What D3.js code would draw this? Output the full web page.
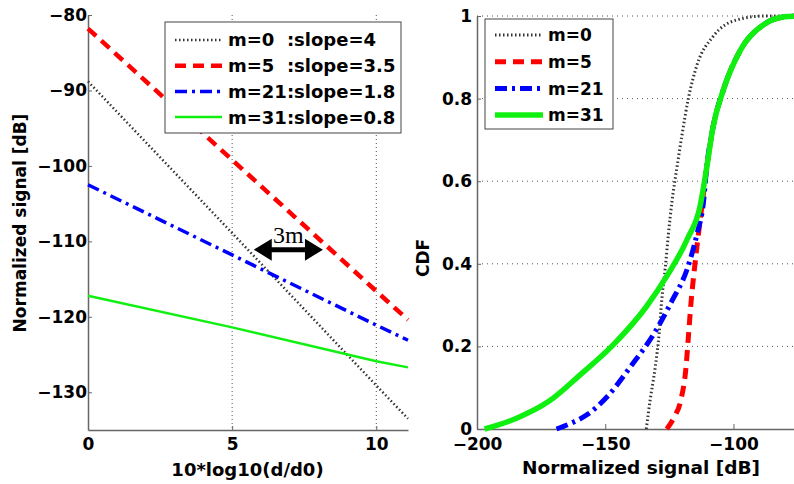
<!DOCTYPE html>
<html>
<head>
<meta charset="utf-8">
<script src="https://cdn.jsdelivr.net/npm/d3@7"></script>
<style>
  body { margin: 0; background: #fff; }
  svg { display: block; font-family: "DejaVu Sans", sans-serif; font-weight: bold; }
</style>
</head>
<body>
<script>
// left panel: path loss vs 10*log10(d/d0)
const distX = [0, 5, 10, 11.1];
const lossM0 = [-88.8, -108.9, -129.1, -133.5];
const lossM5 = [-81.8, -99.2, -116.6, -120.4];
const lossM21 = [-102.5, -111.8, -121.1, -123.1];
const lossM31 = [-117.2, -121.4, -125.9, -126.7];
const leftLabels = ["m=0  :slope=4", "m=5  :slope=3.5", "m=21:slope=1.8", "m=31:slope=0.8"];
const leftYTicks = [-80, -90, -100, -110, -120, -130];
const leftXTicks = [0, 5, 10];

// right panel: CDF of normalized signal, [dB, cdf]
const cdfM0 = [[-134, 0], [-132.5, 0.07], [-130.5, 0.15], [-129, 0.23], [-128, 0.31], [-126.6, 0.39],
  [-125.4, 0.47], [-124, 0.55], [-122, 0.635], [-120, 0.715], [-117.6, 0.8], [-114.3, 0.88],
  [-108, 0.95], [-99, 0.99], [-88, 1], [-75, 1]];
const cdfM5 = [[-126, 0], [-123, 0.03], [-120.5, 0.07], [-118.5, 0.15], [-117.5, 0.23], [-116.5, 0.31],
  [-115, 0.4], [-113.7, 0.47], [-112.3, 0.54], [-110.5, 0.63], [-108, 0.73], [-104, 0.82],
  [-97.5, 0.915], [-88, 0.98], [-80, 0.998], [-75, 1]];
const cdfM21 = [[-169, 0], [-163, 0.015], [-157, 0.035], [-149, 0.08], [-140, 0.152], [-131, 0.231],
  [-124, 0.31], [-118.2, 0.385], [-114.3, 0.47], [-111.7, 0.55],
  [-110.5, 0.63], [-108, 0.73], [-104, 0.82], [-97.5, 0.915], [-88, 0.98], [-80, 0.998], [-75, 1]];
const cdfM31 = [[-197, 0], [-185, 0.025], [-172, 0.067], [-160, 0.13], [-147, 0.203], [-134, 0.296],
  [-126, 0.37], [-118, 0.46], [-113, 0.54], [-110.5, 0.63], [-108, 0.73], [-104, 0.82],
  [-97.5, 0.915], [-88, 0.98], [-80, 0.998], [-75, 1]];
const rightLabels = ["m=0", "m=5", "m=21", "m=31"];
const rightYTicks = [0, 0.2, 0.4, 0.6, 0.8, 1];
const rightXTicks = [-200, -150, -100];

// "3m" arrow, in data units of the left panel
const arrowX = [5.75, 8.15];
const arrowY = -111.1;

const styles = [
  { color: "#333", dash: "1.5,2.5" },
  { color: "#ff0000", dash: "11,7" },
  { color: "#0000ff", dash: "12,5,3,5" },
  { color: "#10f010", dash: null }
];
const leftWidths = [2.5, 4.5, 3.5, 2.5];
const rightWidths = [3, 5, 5, 5.5];

var width = 794, height = 484;

var svg = d3.select("body").append("svg")
  .attr("width", width)
  .attr("height", height);

var xL = d3.scaleLinear().domain([0, 11.1]).range([88, 408]);
var yL = d3.scaleLinear().domain([-135, -80]).range([430, 15]);
var xR = d3.scaleLinear().domain([-200, -75]).range([477, 797.6]);
var yR = d3.scaleLinear().domain([0, 1]).range([429, 16]);

function styleAxis(g) {
  g.select(".domain").attr("stroke", "#666").attr("stroke-width", 1.5);
  g.selectAll(".tick line").attr("stroke", "#666");
  g.selectAll(".tick text").attr("fill", "#000").style("font-size", "17px").style("font-weight", "bold")
    .style("font-family", "DejaVu Sans, sans-serif");
}

// ---- left panel ----
svg.append("g")
  .selectAll("line")
  .data([5, 10])
  .enter()
  .append("line")
  .attr("x1", (d) => xL(d))
  .attr("x2", (d) => xL(d))
  .attr("y1", yL(-80))
  .attr("y2", yL(-135))
  .attr("stroke", "#555")
  .attr("stroke-dasharray", "1,3");

svg.append("g")
  .attr("transform", `translate(0,${yL(-135)})`)
  .call(d3.axisBottom(xL).tickValues(leftXTicks).tickSize(-4).tickSizeOuter(0).tickPadding(8))
  .call(styleAxis);

svg.append("g")
  .attr("transform", `translate(${xL(0)},0)`)
  .call(d3.axisLeft(yL).tickValues(leftYTicks).tickSize(-4).tickSizeOuter(0).tickPadding(1))
  .call(styleAxis);

var lineL = d3.line().x((d, i) => xL(distX[i])).y((d) => yL(d));
[lossM0, lossM5, lossM21, lossM31].forEach((s, i) => {
  svg.append("path")
    .attr("d", lineL(s))
    .attr("fill", "none")
    .attr("stroke", styles[i].color)
    .attr("stroke-width", leftWidths[i])
    .attr("stroke-dasharray", styles[i].dash);
});

// arrow annotation
var ax1 = xL(arrowX[0]), ax2 = xL(arrowX[1]), ay = yL(arrowY);
svg.append("line")
  .attr("x1", ax1 + 10).attr("x2", ax2 - 10)
  .attr("y1", ay).attr("y2", ay)
  .attr("stroke", "#000").attr("stroke-width", 5);
svg.append("path")
  .attr("d", `M${ax1},${ay}L${ax1 + 18},${ay - 11}L${ax1 + 18},${ay + 11}Z` +
    `M${ax2},${ay}L${ax2 - 18},${ay - 11}L${ax2 - 18},${ay + 11}Z`)
  .attr("fill", "#000");
svg.append("text")
  .text("3m")
  .attr("x", (ax1 + ax2) / 2)
  .attr("y", ay - 7)
  .attr("text-anchor", "middle")
  .style("font-family", "Liberation Serif, serif")
  .style("font-weight", "normal")
  .style("font-size", "24px");

// left legend
var legL = svg.append("g");
legL.append("rect")
  .attr("x", 165).attr("y", 22).attr("width", 236).attr("height", 111)
  .attr("fill", "#fff").attr("stroke", "#444").attr("stroke-width", 1);
leftLabels.forEach((lab, i) => {
  var y = 40 + i * 25.7;
  legL.append("line")
    .attr("x1", 175).attr("x2", 222).attr("y1", y).attr("y2", y)
    .attr("stroke", styles[i].color)
    .attr("stroke-width", leftWidths[i])
    .attr("stroke-dasharray", styles[i].dash);
  legL.append("text")
    .text(lab)
    .attr("x", 228).attr("y", y)
    .attr("dy", "0.36em")
    .style("white-space", "pre")
    .style("font-size", "18px");
});

svg.append("text")
  .text("10*log10(d/d0)")
  .attr("x", 247.5).attr("y", 476)
  .attr("text-anchor", "middle")
  .style("font-size", "18px");

svg.append("text")
  .text("Normalized signal [dB]")
  .attr("transform", "translate(26,223) rotate(-90)")
  .attr("text-anchor", "middle")
  .style("font-size", "17px");

// ---- right panel ----
svg.append("g")
  .selectAll("line")
  .data(rightYTicks.slice(1))
  .enter()
  .append("line")
  .attr("x1", xR(-200))
  .attr("x2", xR(-75))
  .attr("y1", (d) => yR(d))
  .attr("y2", (d) => yR(d))
  .attr("stroke", "#555")
  .attr("stroke-dasharray", "1,4");

svg.append("g")
  .attr("transform", `translate(0,${yR(0)})`)
  .call(d3.axisBottom(xR).tickValues(rightXTicks).tickSize(-5).tickSizeOuter(0).tickPadding(9))
  .call(styleAxis);

svg.append("g")
  .attr("transform", `translate(${xR(-200)},0)`)
  .call(d3.axisLeft(yR).tickValues(rightYTicks).tickFormat(d3.format("")).tickSize(-4).tickSizeOuter(0).tickPadding(5))
  .call(styleAxis);

var lineR = d3.line().x((d) => xR(d[0])).y((d) => yR(d[1])).curve(d3.curveMonotoneX);
[cdfM0, cdfM5, cdfM21, cdfM31].forEach((s, i) => {
  svg.append("path")
    .attr("d", lineR(s))
    .attr("fill", "none")
    .attr("stroke", styles[i].color)
    .attr("stroke-width", rightWidths[i])
    .attr("stroke-dasharray", styles[i].dash);
});

// right legend
var legR = svg.append("g");
legR.append("rect")
  .attr("x", 485).attr("y", 19).attr("width", 128).attr("height", 110)
  .attr("fill", "#fff").attr("stroke", "#444").attr("stroke-width", 1);
rightLabels.forEach((lab, i) => {
  var y = 35 + i * 26.7;
  legR.append("line")
    .attr("x1", 495).attr("x2", 543).attr("y1", y).attr("y2", y)
    .attr("stroke", styles[i].color)
    .attr("stroke-width", rightWidths[i])
    .attr("stroke-dasharray", styles[i].dash);
  legR.append("text")
    .text(lab)
    .attr("x", 548).attr("y", y)
    .attr("dy", "0.36em")
    .style("font-size", "17px");
});

svg.append("text")
  .text("Normalized signal [dB]")
  .attr("x", 641).attr("y", 474)
  .attr("text-anchor", "middle")
  .style("font-size", "18.5px");

svg.append("text")
  .text("CDF")
  .attr("transform", "translate(429,258) rotate(-90)")
  .attr("text-anchor", "middle")
  .style("font-size", "17px");
</script>
</body>
</html>
